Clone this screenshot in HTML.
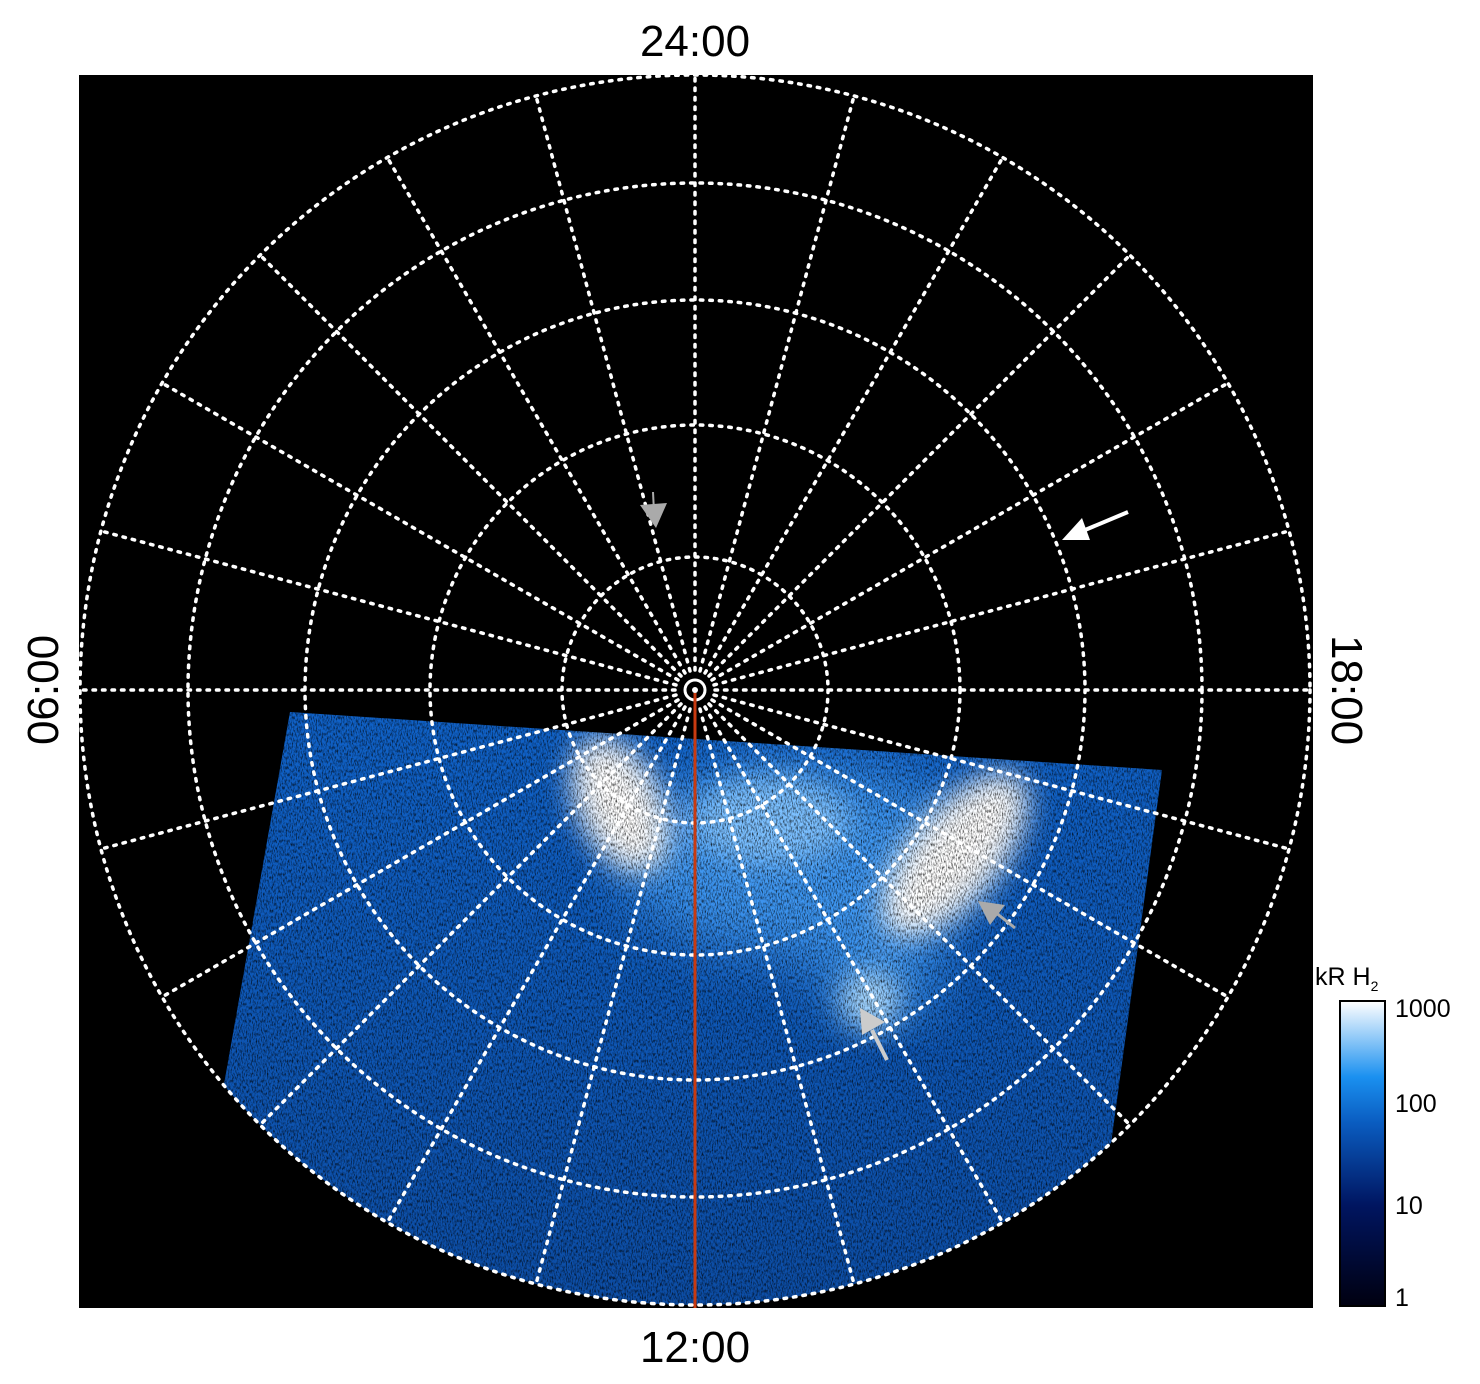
<!DOCTYPE html>
<html><head><style>html,body{margin:0;padding:0;background:#fff;}svg{display:block}</style></head>
<body>
<svg width="1480" height="1384" viewBox="0 0 1480 1384" xmlns="http://www.w3.org/2000/svg" font-family="Liberation Sans, sans-serif">
<defs>
<clipPath id="cc"><circle cx="695" cy="690" r="615"/></clipPath>
<clipPath id="poly"><polygon points="290,712 1162,770 1076,1400 168,1400"/></clipPath>
<filter id="b30"><feGaussianBlur stdDeviation="30"/></filter>
<filter id="b15"><feGaussianBlur stdDeviation="14"/></filter>
<filter id="noise" x="0" y="0" width="100%" height="100%">
<feTurbulence type="fractalNoise" baseFrequency="0.8 0.3" numOctaves="2" seed="3"/>
<feColorMatrix type="matrix" values="0 0 0 0 0  0 0 0 0 0  0 0 0 0 0  0 0 0 2.2 -0.95"/>
</filter>
<linearGradient id="cb" x1="0" y1="1" x2="0" y2="0">
<stop offset="0" stop-color="#000010"/>
<stop offset="0.33" stop-color="#001560"/>
<stop offset="0.6" stop-color="#0a5cc0"/>
<stop offset="0.75" stop-color="#1a90f0"/>
<stop offset="1" stop-color="#ffffff"/>
</linearGradient>
<linearGradient id="bg" x1="0" y1="0" x2="0" y2="1">
<stop offset="0" stop-color="#1062c8"/>
<stop offset="1" stop-color="#0c4aa0"/>
</linearGradient>
</defs>
<rect x="79" y="75" width="1234" height="1233" fill="#000"/>
<g clip-path="url(#cc)">
<g clip-path="url(#poly)">
<rect x="150" y="700" width="1100" height="700" fill="url(#bg)"/>
<g filter="url(#b30)">
<ellipse cx="800" cy="860" rx="180" ry="95" fill="#3d95f0"/>
<ellipse cx="880" cy="960" rx="60" ry="60" fill="#3d95f0"/>
</g>
<g filter="url(#b15)">
<ellipse cx="620" cy="805" rx="42" ry="72" fill="#ffffff" transform="rotate(-25 620 805)"/>
<ellipse cx="955" cy="855" rx="45" ry="100" fill="#ffffff" transform="rotate(40 955 855)"/>
<ellipse cx="770" cy="820" rx="80" ry="45" fill="#7cc0ff"/>
<ellipse cx="870" cy="1000" rx="30" ry="30" fill="#a8d8ff"/>
</g>
<rect x="150" y="700" width="1100" height="700" fill="#000" filter="url(#noise)" opacity="0.85"/>
</g>
</g>
<g fill="none" stroke="#fff" stroke-width="3.5" stroke-dasharray="2.5 7" stroke-linecap="round">
<circle cx="695" cy="690" r="615"/>
<circle cx="695" cy="690" r="507"/>
<circle cx="695" cy="690" r="390"/>
<circle cx="695" cy="690" r="265"/>
<circle cx="695" cy="690" r="133"/>
<line x1="715" y1="690" x2="1310" y2="690"/>
<line x1="714" y1="685" x2="1289" y2="531"/>
<line x1="712" y1="680" x2="1228" y2="383"/>
<line x1="709" y1="676" x2="1130" y2="255"/>
<line x1="705" y1="673" x2="1003" y2="157"/>
<line x1="700" y1="671" x2="854" y2="96"/>
<line x1="695" y1="670" x2="695" y2="75"/>
<line x1="690" y1="671" x2="536" y2="96"/>
<line x1="685" y1="673" x2="387" y2="157"/>
<line x1="681" y1="676" x2="260" y2="255"/>
<line x1="678" y1="680" x2="162" y2="383"/>
<line x1="676" y1="685" x2="101" y2="531"/>
<line x1="675" y1="690" x2="80" y2="690"/>
<line x1="676" y1="695" x2="101" y2="849"/>
<line x1="678" y1="700" x2="162" y2="997"/>
<line x1="681" y1="704" x2="260" y2="1125"/>
<line x1="685" y1="707" x2="387" y2="1223"/>
<line x1="690" y1="709" x2="536" y2="1284"/>
<line x1="700" y1="709" x2="854" y2="1284"/>
<line x1="705" y1="707" x2="1003" y2="1223"/>
<line x1="709" y1="704" x2="1130" y2="1125"/>
<line x1="712" y1="700" x2="1228" y2="997"/>
<line x1="714" y1="695" x2="1289" y2="849"/>
</g>
<circle cx="695" cy="690" r="10" fill="none" stroke="#fff" stroke-width="3"/>
<circle cx="695" cy="690" r="3" fill="#fff"/>
<line x1="695" y1="693" x2="695" y2="1308" stroke="#c83a10" stroke-width="3"/>
<line x1="1128" y1="512" x2="1085" y2="530" stroke="#fff" stroke-width="4"/>
<polygon points="1062,540 1082,518 1090,540" fill="#fff"/>
<line x1="653" y1="492" x2="654" y2="512" stroke="#aaa" stroke-width="2"/>
<polygon points="640,505 667,503 656,528" fill="#aaa"/>
<line x1="1015" y1="928" x2="995" y2="912" stroke="#aaa" stroke-width="3"/>
<polygon points="978,901 1005,905 990,925" fill="#aaa"/>
<line x1="887" y1="1060" x2="872" y2="1030" stroke="#ccc" stroke-width="4"/>
<polygon points="860,1008 885,1022 862,1035" fill="#ccc"/>
<g font-size="44" fill="#000" text-anchor="middle">
<text x="695" y="56">24:00</text>
<text x="695" y="1362">12:00</text>
<text transform="translate(58 690) rotate(-90)">06:00</text>
<text transform="translate(1332 690) rotate(90)">18:00</text>
</g>
<rect x="1340" y="1001" width="45" height="305" fill="url(#cb)" stroke="#000" stroke-width="2"/>
<g font-size="25" fill="#000">
<text x="1315" y="985">kR H<tspan font-size="14" dy="6">2</tspan></text>
<text x="1395" y="1017">1000</text>
<text x="1395" y="1112">100</text>
<text x="1395" y="1214">10</text>
<text x="1395" y="1306">1</text>
</g>
</svg>
</body></html>
